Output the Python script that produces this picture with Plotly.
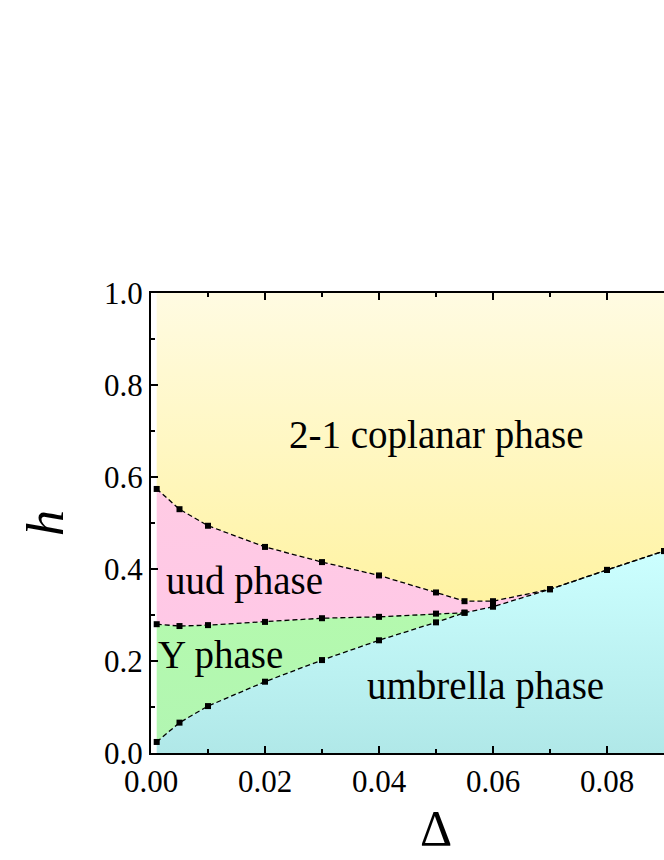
import plotly.graph_objects as go

# phase boundaries (Delta, h)
delta_coplanar = [0.001, 0.005, 0.01, 0.02, 0.03, 0.04, 0.05, 0.055, 0.06, 0.07, 0.08, 0.09]
h_coplanar = [0.574, 0.530, 0.494, 0.448, 0.415, 0.386, 0.349, 0.330, 0.330, 0.356, 0.398, 0.439]

delta_uud_y = [0.001, 0.005, 0.01, 0.02, 0.03, 0.04, 0.05, 0.055]
h_uud_y = [0.280, 0.276, 0.278, 0.285, 0.293, 0.296, 0.303, 0.305]

delta_umbrella = [0.001, 0.005, 0.01, 0.02, 0.03, 0.04, 0.05, 0.055, 0.06, 0.07, 0.08, 0.09]
h_umbrella = [0.024, 0.066, 0.102, 0.155, 0.202, 0.245, 0.284, 0.305, 0.318, 0.356, 0.398, 0.439]

phase_labels = ["2-1 coplanar phase", "uud phase", "Y phase", "umbrella phase"]
label_delta = [0.0501, 0.0164, 0.0122, 0.0587]
label_h = [0.692, 0.374, 0.214, 0.145]

FONT = "Liberation Serif"
H_MIN, H_MAX = 0.0, 1.0

fig = go.Figure()

# region polygons built from the boundary arrays
n_pink_end = delta_coplanar.index(0.07)
n_split = delta_umbrella.index(0.055)

yellow_x = delta_coplanar + [delta_coplanar[-1], delta_coplanar[0]]
yellow_y = h_coplanar + [H_MAX, H_MAX]

pink_x = delta_coplanar[:n_pink_end + 1] + delta_umbrella[n_pink_end:n_split - 1:-1] + delta_uud_y[::-1]
pink_y = h_coplanar[:n_pink_end + 1] + h_umbrella[n_pink_end:n_split - 1:-1] + h_uud_y[::-1]

green_x = delta_uud_y + delta_umbrella[:n_split + 1][::-1]
green_y = h_uud_y + h_umbrella[:n_split + 1][::-1]

cyan_x = delta_umbrella + [delta_umbrella[-1], delta_umbrella[0]]
cyan_y = h_umbrella + [H_MIN, H_MIN]

regions = [
    (yellow_x, yellow_y, [[0, "#fff3a2"], [1, "#fffbe2"]]),
    (pink_x, pink_y, [[0, "#ffc8e6"], [1, "#ffcbe4"]]),
    (green_x, green_y, [[0, "#b2f6b2"], [1, "#b4f9ae"]]),
    (cyan_x, cyan_y, [[0, "#b0e8e8"], [1, "#ccffff"]]),
]
for rx, ry, cs in regions:
    fig.add_trace(go.Scatter(
        x=rx, y=ry, mode="none", fill="toself",
        fillgradient=dict(type="vertical", colorscale=cs),
        hoverinfo="skip", showlegend=False
    ))

# dashed boundaries with square markers
for bx, by in [(delta_coplanar, h_coplanar), (delta_uud_y, h_uud_y), (delta_umbrella, h_umbrella)]:
    fig.add_trace(go.Scatter(
        x=bx, y=by, mode="lines+markers",
        line=dict(color="black", width=1.3, dash="5px,3px"),
        marker=dict(symbol="square", size=6, color="black"),
        showlegend=False
    ))

for text, lx, ly in zip(phase_labels, label_delta, label_h):
    fig.add_annotation(x=lx, y=ly, text=text, showarrow=False,
                       font=dict(family=FONT, size=39, color="black"))

# the x title sits at the centre of the full (cropped) axis
fig.add_annotation(x=0.05, y=-0.163, xref="x", yref="paper", yanchor="middle",
                   text="Δ", showarrow=False,
                   font=dict(family=FONT, size=50, color="black"))

axis_common = dict(
    showgrid=False, zeroline=False, showline=True, linecolor="black", linewidth=2,
    ticks="inside", ticklen=7, tickwidth=1.5, tickcolor="black",
    tickfont=dict(family=FONT, size=31, color="black"),
)
fig.update_xaxes(
    range=[0, 0.09], dtick=0.02, tickformat=".2f", mirror="ticks",
    minor=dict(dtick=0.01, ticks="inside", ticklen=4, tickcolor="black"),
    **axis_common
)
# right side of the frame is cut off in the original, so no mirror here
fig.update_yaxes(
    range=[H_MIN, H_MAX], dtick=0.2, tickformat=".1f", mirror=False,
    minor=dict(dtick=0.1, ticks="inside", ticklen=4, tickcolor="black"),
    title=dict(text="<i>h</i>", font=dict(family=FONT, size=52, color="black"), standoff=24),
    **axis_common
)

fig.update_layout(
    width=664, height=860,
    margin=dict(l=151, r=0, t=293, b=107),
    plot_bgcolor="white", paper_bgcolor="white",
)

# drop the default page margin so the 664x860 figure fills the window
fig.write_html("out.html", config={"displayModeBar": False},
               post_script="document.body.style.margin='0';")
